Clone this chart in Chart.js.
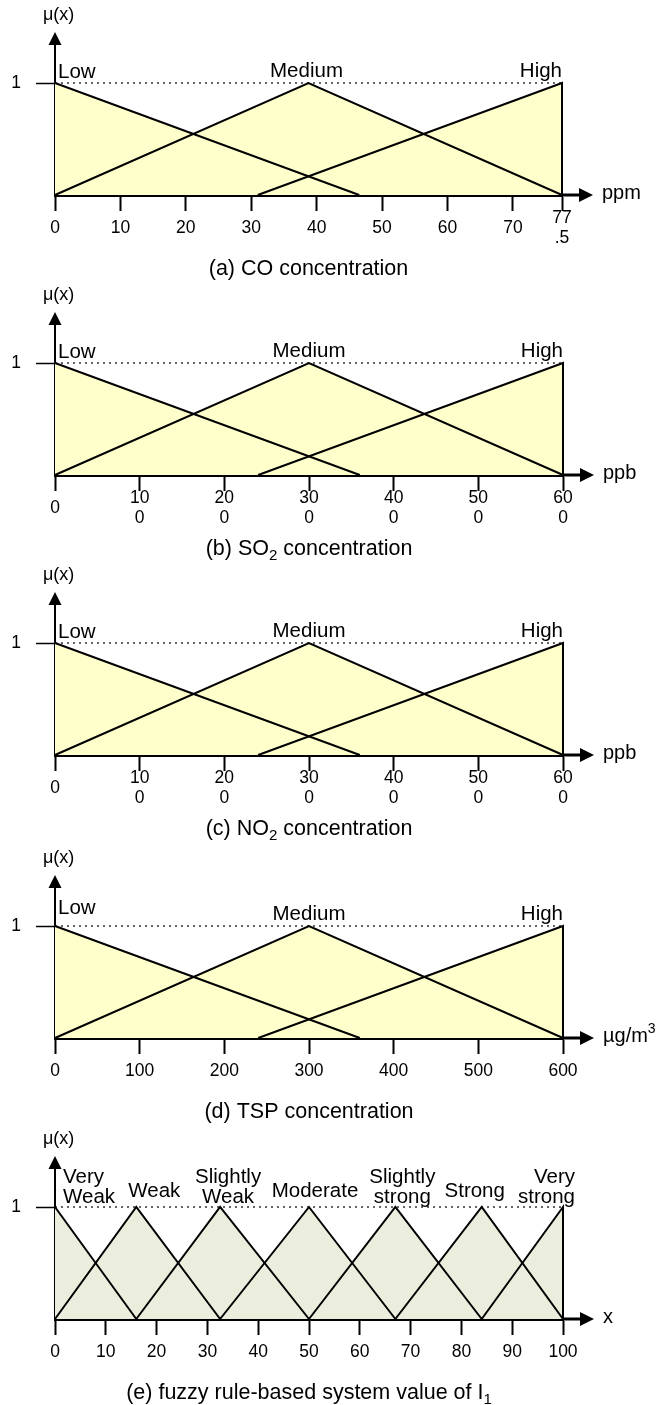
<!DOCTYPE html>
<html>
<head>
<meta charset="utf-8">
<script src="https://cdn.jsdelivr.net/npm/chart.js@4"></script>
<style>
  body { margin: 0; background: #fff; }
  canvas { display: block; }
</style>
</head>
<body>
<canvas id="coChart" width="660" height="280"></canvas>
<canvas id="so2Chart" width="660" height="280"></canvas>
<canvas id="no2Chart" width="660" height="283"></canvas>
<canvas id="tspChart" width="660" height="281"></canvas>
<canvas id="ruleChart" width="660" height="281"></canvas>
<script>
// fuzzy sets are [start, peak, end] of each triangle

// (a) CO, ppm
var coTicks = [0, 10, 20, 30, 40, 50, 60, 70, 77.5];
var coTickLabels = ["0", "10", "20", "30", "40", "50", "60", "70", ["77", ".5"]];
var coTerms = ["Low", "Medium", "High"];
var coSets = [[0, 0, 46.5], [0, 38.75, 77.5], [31, 77.5, 77.5]];

// (b) SO2, ppb
var so2Ticks = [0, 100, 200, 300, 400, 500, 600];
var so2TickLabels = ["0", ["10", "0"], ["20", "0"], ["30", "0"], ["40", "0"], ["50", "0"], ["60", "0"]];
var so2Terms = ["Low", "Medium", "High"];
var so2Sets = [[0, 0, 360], [0, 300, 600], [240, 600, 600]];

// (c) NO2, ppb
var no2Ticks = [0, 100, 200, 300, 400, 500, 600];
var no2TickLabels = ["0", ["10", "0"], ["20", "0"], ["30", "0"], ["40", "0"], ["50", "0"], ["60", "0"]];
var no2Terms = ["Low", "Medium", "High"];
var no2Sets = [[0, 0, 360], [0, 300, 600], [240, 600, 600]];

// (d) TSP, ug/m3
var tspTicks = [0, 100, 200, 300, 400, 500, 600];
var tspTickLabels = ["0", "100", "200", "300", "400", "500", "600"];
var tspTerms = ["Low", "Medium", "High"];
var tspSets = [[0, 0, 360], [0, 300, 600], [240, 600, 600]];

// (e) rule-based system value
var ruleTicks = [0, 10, 20, 30, 40, 50, 60, 70, 80, 90, 100];
var ruleTickLabels = ["0", "10", "20", "30", "40", "50", "60", "70", "80", "90", "100"];
var ruleTerms = [["Very", "Weak"], "Weak", ["Slightly", "Weak"], "Moderate", ["Slightly", "strong"], "Strong", ["Very", "strong"]];
var ruleSets = [[0, 0, 16], [0, 16, 32.5], [16, 32.5, 50], [32.5, 50, 67], [50, 67, 84], [67, 84, 100], [84, 100, 100]];

var FONT = '"Liberation Sans", Arial, sans-serif';
var TOP = 83, BOTTOM = 195, LEFT = 55, RIGHT = 563, TIP = 32;

var panels = [
  { id: "coChart", ticks: coTicks, labels: coTickLabels, terms: coTerms, sets: coSets,
    unit: [["ppm"]], title: [["(a) CO concentration"]], fill: "#ffffcc",
    nudge: [3, -2, 0], lift: [5, 6, 6], right: 562 },
  { id: "so2Chart", ticks: so2Ticks, labels: so2TickLabels, terms: so2Terms, sets: so2Sets,
    unit: [["ppb"]], title: [["(b) SO"], ["2", "sub"], [" concentration"]], fill: "#ffffcc",
    nudge: [3, 0, 0], lift: [5, 6, 6] },
  { id: "no2Chart", ticks: no2Ticks, labels: no2TickLabels, terms: no2Terms, sets: no2Sets,
    unit: [["ppb"]], title: [["(c) NO"], ["2", "sub"], [" concentration"]], fill: "#ffffcc",
    nudge: [3, 0, 0], lift: [5, 6, 6] },
  { id: "tspChart", ticks: tspTicks, labels: tspTickLabels, terms: tspTerms, sets: tspSets,
    unit: [["\u00b5g/m"], ["3", "sup"]], title: [["(d) TSP concentration"]], fill: "#ffffcc",
    nudge: [3, 0, 0], lift: [12, 6, 6] },
  { id: "ruleChart", ticks: ruleTicks, labels: ruleTickLabels, terms: ruleTerms, sets: ruleSets,
    unit: [["x"]], title: [["(e) fuzzy rule-based system value of I"], ["1", "sub"]], fill: "#ebeedd",
    nudge: [8, 18, 8, 6, 7, -7, 12], lift: [4, 10, 4, 10, 4, 10, 4] }
];

function trianglePoints(s) {
  var pts = [];
  if (s[0] < s[1]) pts.push({ x: s[0], y: 0 });
  pts.push({ x: s[1], y: 1 });
  pts.push({ x: s[2], y: 0 });
  return pts;
}

// text with sub/superscript pieces
function richText(ctx, parts, x, y, size, align) {
  var w = 0;
  parts.forEach(function (p) {
    ctx.font = (p[1] ? size * 0.7 : size) + "px " + FONT;
    w += ctx.measureText(p[0]).width;
  });
  var cx = align === "center" ? x - w / 2 : x;
  ctx.textAlign = "left";
  ctx.textBaseline = "alphabetic";
  parts.forEach(function (p) {
    ctx.font = (p[1] ? size * 0.7 : size) + "px " + FONT;
    var dy = p[1] === "sub" ? 5 : p[1] === "sup" ? -9 : 0;
    ctx.fillText(p[0], cx, y + dy);
    cx += ctx.measureText(p[0]).width;
  });
}

function decor(p) {
  return {
    id: "decor",
    afterDraw: function (chart) {
      var ctx = chart.ctx, a = chart.chartArea, x = chart.scales.x;
      ctx.save();
      ctx.fillStyle = "#000";
      ctx.strokeStyle = "#000";

      // y axis arrow
      ctx.lineWidth = 2;
      ctx.beginPath();
      ctx.moveTo(a.left, a.top);
      ctx.lineTo(a.left, TIP + 12);
      ctx.stroke();
      ctx.beginPath();
      ctx.moveTo(a.left, TIP);
      ctx.lineTo(a.left - 6.5, TIP + 13);
      ctx.lineTo(a.left + 6.5, TIP + 13);
      ctx.closePath();
      ctx.fill();

      // x axis arrow
      ctx.lineWidth = 3;
      ctx.beginPath();
      ctx.moveTo(a.right, a.bottom);
      ctx.lineTo(a.right + 18, a.bottom);
      ctx.stroke();
      ctx.beginPath();
      ctx.moveTo(a.right + 31, a.bottom);
      ctx.lineTo(a.right + 17, a.bottom - 7);
      ctx.lineTo(a.right + 17, a.bottom + 7);
      ctx.closePath();
      ctx.fill();

      richText(ctx, p.unit, a.right + 40, a.bottom + 4, 20, "left");
      richText(ctx, [["\u03bc(x)"]], a.left - 12, TIP - 12, 18, "left");

      // term labels above the peaks
      ctx.font = "20.5px " + FONT;
      ctx.textBaseline = "alphabetic";
      p.terms.forEach(function (t, i) {
        var lines = Array.isArray(t) ? t : [t];
        var px = x.getPixelForValue(p.sets[i][1]) + p.nudge[i];
        ctx.textAlign = i === 0 ? "left" : i === p.terms.length - 1 ? "right" : "center";
        var base = a.top - p.lift[i];
        lines.forEach(function (ln, k) {
          ctx.fillText(ln, px, base - (lines.length - 1 - k) * 20);
        });
      });

      richText(ctx, p.title, (a.left + a.right) / 2, a.bottom + 80, 21.5, "center");
      ctx.restore();
    }
  };
}

panels.forEach(function (p) {
  var canvas = document.getElementById(p.id);
  var H = canvas.height;
  var xEnd = p.ticks[p.ticks.length - 1];
  var maxLines = Math.max.apply(null, p.labels.map(function (l) { return Array.isArray(l) ? l.length : 1; }));
  var lineH = 20;

  var datasets = p.sets.map(function (s) {
    return {
      data: trianglePoints(s),
      borderColor: "#000",
      borderWidth: 2,
      backgroundColor: p.fill,
      fill: "origin",
      pointRadius: 0,
      clip: false
    };
  });
  datasets.push({
    data: [{ x: 0, y: 1 }, { x: xEnd, y: 1 }],
    borderColor: "#333",
    borderWidth: 1.5,
    borderDash: [2, 4],
    fill: false,
    pointRadius: 0,
    clip: false
  });

  new Chart(canvas, {
    type: "line",
    data: { datasets: datasets },
    options: {
      responsive: false,
      animation: false,
      layout: { padding: { top: TOP, left: 0, right: 660 - (p.right || RIGHT), bottom: 0 } },
      plugins: {
        legend: { display: false },
        tooltip: { enabled: false },
        filler: { drawTime: "beforeDatasetsDraw" }
      },
      scales: {
        x: {
          type: "linear",
          min: 0,
          max: xEnd,
          z: 1,
          afterBuildTicks: function (s) {
            s.ticks = p.ticks.map(function (v) { return { value: v }; });
          },
          afterFit: function (s) { s.height = H - BOTTOM; },
          grid: { drawOnChartArea: false, tickLength: 16, tickWidth: 2, tickColor: "#000" },
          border: { color: "#000", width: 3 },
          ticks: {
            autoSkip: false,
            maxRotation: 0,
            minRotation: 0,
            crossAlign: "center",
            padding: 17 - (maxLines - 1) * lineH / 2,
            color: "#000",
            font: { family: FONT, size: 17.5, lineHeight: lineH / 17.5 },
            callback: function (v, i) { return p.labels[i]; }
          }
        },
        y: {
          min: 0,
          max: 1,
          z: 1,
          afterBuildTicks: function (s) { s.ticks = [{ value: 1 }]; },
          afterFit: function (s) { s.width = LEFT; },
          grid: { drawOnChartArea: false, tickLength: 19, tickWidth: 1.5, tickColor: "#000" },
          border: { color: "#000", width: 2 },
          ticks: {
            padding: 15,
            color: "#000",
            font: { family: FONT, size: 17.5 },
            callback: function () { return "1"; }
          }
        }
      }
    },
    plugins: [decor(p)]
  });
});
</script>
</body>
</html>
